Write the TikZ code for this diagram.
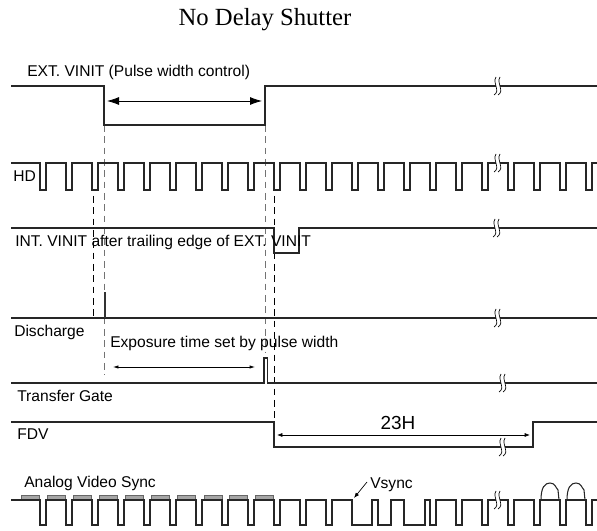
\documentclass[tikz,border=0pt]{standalone}
\usepackage{fontspec}
\setmainfont{Liberation Serif}
\setsansfont{Liberation Sans}
\usetikzlibrary{arrows.meta}

\tikzset{
  sig/.style={line width=0.8pt, draw=black!85, line join=miter},
  vdash/.style={line width=0.7pt, dash pattern=on 5pt off 3.5pt},
  lbl/.style={anchor=base west, inner sep=0pt, font=\sffamily\fontsize{11.7}{14}\selectfont},
  brk/.pic={
    \fill[white] (-3,-9) .. controls (4,-5) and (-5,3) .. (-1,9) -- (3,9) .. controls (-1,3) and (8,-5) .. (1,-9) -- cycle;
    \draw[line width=0.5pt] (-3,-9) .. controls (4,-5) and (-5,3) .. (-1,9);
    \draw[line width=0.5pt] (1,-9) .. controls (8,-5) and (-1,3) .. (3,9);
  }
}

\begin{document}
\begin{tikzpicture}[x=0.75pt,y=0.75pt,yscale=-1,xscale=1]
\path[use as bounding box] (0,0) rectangle (597,531);

% Title
\draw (265,20) node [inner sep=0pt, font=\fontsize{18.5}{20}\selectfont] (title) {No Delay Shutter};

%Dashed guides
\draw [vdash, draw=black!55] (104,125) -- (104,375) ;
\draw [vdash, draw=black!55] (265,125) -- (265,352) ;
\draw [vdash] (93,196) -- (93,318) ;
\draw [vdash] (274,196) -- (274,422) ;

%EXT. VINIT
\draw [sig] (11,86) -- (104,86) -- (104,125) -- (265,125) -- (265,86) -- (597,86) ;
\draw [{Latex[length=9pt,width=6pt]}-{Latex[length=9pt,width=6pt]}, line width=0.6pt] (107,101) coordinate (pw1) -- (262,101) coordinate (pw2) ;
\draw (27,77) node [lbl] (extlbl) {EXT. VINIT (Pulse width control)};
\pic at (497,86) {brk};

%HD
\draw [sig] (11,163) -- (40,163) -- (40,190) -- (46,190) -- (46,163) -- (66,163) -- (66,190) -- (72,190) -- (72,163)
  -- (92,163) -- (92,190) -- (98,190) -- (98,163) -- (118,163) -- (118,190) -- (124,190) -- (124,163)
  -- (144,163) -- (144,190) -- (150,190) -- (150,163) -- (170,163) -- (170,190) -- (176,190) -- (176,163)
  -- (196,163) -- (196,190) -- (202,190) -- (202,163) -- (222,163) -- (222,190) -- (228,190) -- (228,163)
  -- (248,163) -- (248,190) -- (254,190) -- (254,163) -- (274,163) -- (274,190) -- (280,190) -- (280,163)
  -- (300,163) -- (300,190) -- (306,190) -- (306,163) -- (326,163) -- (326,190) -- (332,190) -- (332,163)
  -- (352,163) -- (352,190) -- (358,190) -- (358,163) -- (378,163) -- (378,190) -- (384,190) -- (384,163)
  -- (404,163) -- (404,190) -- (410,190) -- (410,163) -- (430,163) -- (430,190) -- (436,190) -- (436,163)
  -- (456,163) -- (456,190) -- (462,190) -- (462,163) -- (482,163) -- (482,190) -- (488,190) -- (488,163)
  -- (508,163) -- (508,190) -- (514,190) -- (514,163) -- (534,163) -- (534,190) -- (540,190) -- (540,163)
  -- (560,163) -- (560,190) -- (566,190) -- (566,163) -- (586,163) -- (586,190) -- (592,190) -- (592,163) -- (597,163) ;
\draw (13,182) node [lbl] (hdlbl) {HD};
\pic at (497,163) {brk};

%INT. VINIT
\draw [sig] (11,228) -- (274,228) -- (274,253) -- (299,253) -- (299,228) -- (597,228) ;
\draw (15,247) node [lbl] (intlbl) {INT. VINIT after trailing edge of EXT. VINIT};
\pic at (496,228) {brk};

%Discharge
\draw [sig] (11,318) -- (597,318) ;
\fill [black!80] (103.5,292) rectangle (106,318) ;
\draw (14,337) node [lbl] (dislbl) {Discharge};
\draw (110,348) node [lbl] (explbl) {Exposure time set by pulse width};
\draw [{Latex[length=4pt,width=2.5pt]}-{Latex[length=4pt,width=2.5pt]}, line width=0.5pt] (113,367) coordinate (ex1) -- (255,367) coordinate (ex2) ;
\pic at (497,318) {brk};

%Transfer Gate
\draw [sig] (11,383) -- (264,383) -- (264,358) -- (267.5,358) -- (267.5,383) -- (597,383) ;
\draw (17,402) node [lbl] (tglbl) {Transfer Gate};
\pic at (502,383) {brk};

%FDV
\draw [sig] (11,422) -- (274,422) -- (274,447) -- (533,447) -- (533,422) -- (597,422) ;
\draw (17,440) node [lbl] (fdvlbl) {FDV};
\draw [{Latex[length=4pt,width=3pt]}-{Latex[length=4pt,width=3pt]}, line width=0.5pt] (277,435) coordinate (h1) -- (530,435) coordinate (h2) ;
\draw (398,430) node [anchor=base, inner sep=0pt, font=\sffamily\fontsize{14.2}{16}\selectfont] (hlbl) {23H};
\pic at (502,447) {brk};

%Analog Video Sync
\foreach \a in {21,47,73,99,125,151,177,204,229,255}
  \draw [fill=black!35, draw=black!60, line width=0.4pt] (\a,495.5) rectangle ++(18,4.5) ;
\draw [sig] (11,500) -- (40,500) -- (40,525) -- (46,525) -- (46,500) -- (66,500) -- (66,525) -- (72,525) -- (72,500)
  -- (92,500) -- (92,525) -- (98,525) -- (98,500) -- (118,500) -- (118,525) -- (124,525) -- (124,500)
  -- (144,500) -- (144,525) -- (150,525) -- (150,500) -- (170,500) -- (170,525) -- (176,525) -- (176,500)
  -- (196,500) -- (196,525) -- (202,525) -- (202,500) -- (222,500) -- (222,525) -- (228,525) -- (228,500)
  -- (248,500) -- (248,525) -- (254,525) -- (254,500) -- (274,500) -- (274,525) -- (280,525) -- (280,500)
  -- (300,500) -- (300,525) -- (306,525) -- (306,500) -- (326,500) -- (326,525) -- (332,525) -- (332,500)
  -- (352,500) -- (352,525) -- (372,525) -- (372,500) -- (378,500) -- (378,525) -- (391,525) -- (391,500)
  -- (404,500) -- (404,525) -- (425,525) -- (425,500) -- (430,500) -- (430,525) -- (436,525) -- (436,500)
  -- (456,500) -- (456,525) -- (462,525) -- (462,500) -- (482,500) -- (482,525) -- (488,525) -- (488,500)
  -- (508,500) -- (508,525) -- (514,525) -- (514,500) -- (534,500) -- (534,525) -- (540,525) -- (540,500)
  -- (560,500) -- (560,525) -- (566,525) -- (566,500) -- (586,500) -- (586,525) -- (592,525) -- (592,500) -- (597,500) ;
\draw [sig] (541,500) .. controls (541,487) and (545,483) .. (550,483) .. controls (555,483) and (556,488) .. (558,490) -- (559,500) ;
\draw [sig] (567,500) .. controls (567,487) and (571,483) .. (576,483) .. controls (581,483) and (582,488) .. (584,490) -- (585,500) ;
\draw (24,487) node [lbl] (synclbl) {Analog Video Sync};
\draw (370,488) node [lbl] (vslbl) {Vsync};
\draw [-{Latex[length=4pt,width=3pt]}, line width=0.5pt] (367,482) coordinate (vs1) -- (354,498) coordinate (vs2) ;
\pic at (497,500) {brk};

\end{tikzpicture}
\end{document}
